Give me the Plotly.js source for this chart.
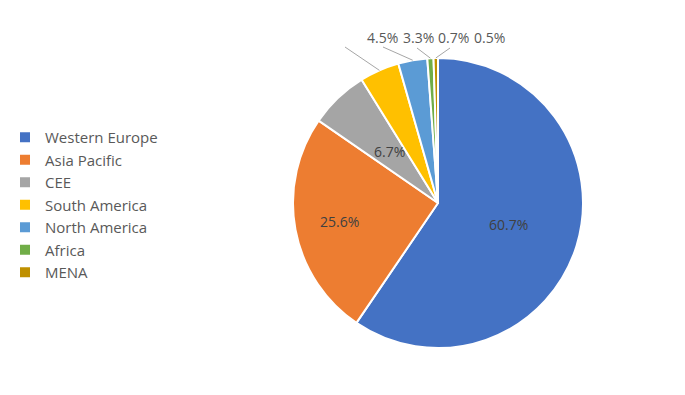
<!DOCTYPE html>
<html><head><meta charset="utf-8">
<script src="https://cdn.plot.ly/plotly-3.0.1.min.js"></script>
<style>html,body{margin:0;padding:0;background:#fff}</style>
</head><body><div id="chart" style="width:685px;height:395px"></div>
<script>
const regions = ["Western Europe","Asia Pacific","CEE","South America","North America","Africa","MENA"];
const shares = [60.7, 25.6, 6.7, 4.5, 3.3, 0.7, 0.5];
const shareLabels = ["60.7%","25.6%","6.7%","4.5%","3.3%","0.7%","0.5%"];
const colors = ["#4472C4","#ED7D31","#A5A5A5","#FFC000","#5B9BD5","#70AD47","#BF9000"];
const insideFlags = [true,true,true,false,false,false,false];

const W = 685, H = 395;
const cx = 438, cy = 203, R = 145;
const dom = {x:[(cx-R)/W,(cx+R)/W], y:[1-(cy+R)/H, 1-(cy-R)/H]};
const FONT = 'Open Sans, sans-serif';

// inside label radius (fraction of R) for the large slices, like the original's best-fit placement
const insideRadius = {0:0.51, 1:0.69, 2:0.49};
// outside label positions [labelX, labelY, leaderStartX, leaderStartY] in pixels
const labelPos = {3:[382,38,345,47],4:[418,38,383,47],5:[453,38,417,48],6:[489,38,450,48]};

const total = shares.reduce((a,b)=>a+b,0);
const annotations = [], shapes = [];
let cum = 0;
shares.forEach((v,i)=>{
  const mid = (cum + v/2)/total; cum += v;
  const ang = mid*2*Math.PI;
  if (insideFlags[i]) {
    const r = R*insideRadius[i];
    const px = cx + r*Math.sin(ang), py = cy - r*Math.cos(ang);
    annotations.push({x:px/W, y:1-py/H, xref:'paper', yref:'paper', text:shareLabels[i], showarrow:false,
      xanchor:'center', yanchor:'middle', font:{family:FONT, size:14, color:'#404040'}});
    return;
  }
  const px = cx + R*Math.sin(ang), py = cy - R*Math.cos(ang);
  const [lx,ly,sx,sy] = labelPos[i];
  annotations.push({x:lx/W, y:1-ly/H, xref:'paper', yref:'paper', text:shareLabels[i], showarrow:false,
    xanchor:'center', yanchor:'middle', font:{family:FONT, size:14, color:'#595959'}});
  shapes.push({type:'line', xref:'paper', yref:'paper', x0:sx/W, y0:1-sy/H, x1:px/W, y1:1-py/H,
    line:{color:'#A6A6A6', width:1}});
});

const trace = {
  type:'pie', labels:regions, values:shares,
  textinfo:'none', textposition:'none',
  marker:{colors:colors, line:{color:'#FFFFFF', width:2}},
  sort:false, direction:'clockwise', rotation:0,
  domain:dom, hoverinfo:'label+percent'
};

const layout = {
  width:W, height:H, margin:{l:0,r:0,t:0,b:0},
  paper_bgcolor:'#FFFFFF', plot_bgcolor:'#FFFFFF',
  showlegend:true,
  legend:{x:5/W, xanchor:'left', y:1-121/H, yanchor:'top',
    font:{family:FONT, size:15, color:'#595959'},
    itemwidth:30, tracegroupgap:0, bgcolor:'rgba(0,0,0,0)'},
  annotations:annotations, shapes:shapes
};
Plotly.newPlot('chart',[trace],layout,{displayModeBar:false,staticPlot:true});
</script></body></html>
